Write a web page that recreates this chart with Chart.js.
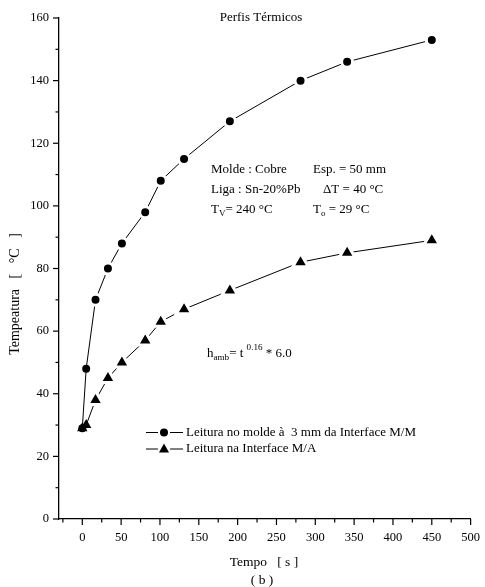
<!DOCTYPE html>
<html>
<head>
<meta charset="utf-8">
<script src="https://cdn.jsdelivr.net/npm/chart.js@4/dist/chart.umd.min.js"></script>
<style>
  body { margin: 0; background: #fff; }
  canvas { display: block; }
</style>
</head>
<body>
<canvas id="grafico" width="485" height="587"></canvas>
<script>
// dados (b)
const tempos = [0, 5, 17, 33, 51, 81, 101, 131, 190, 281, 341, 450];
const tempMolde = [29, 48, 70, 80, 88, 98, 108, 115, 127, 140, 146, 153];
const tempInterface = [29, 30, 38, 45, 50, 57, 63, 67, 73, 82, 85, 89];
const legendas = ['Leitura no molde à  3 mm da Interface M/M', 'Leitura na Interface M/A'];
const ticksX = [-25, 0, 25, 50, 75, 100, 125, 150, 175, 200, 225, 250, 275, 300, 325, 350, 375, 400, 425, 450, 475, 500];
const ticksY = [0, 10, 20, 30, 40, 50, 60, 70, 80, 90, 100, 110, 120, 130, 140, 150, 160];

const fonte = '"Liberation Serif", "Times New Roman", serif';

function pontos(ys) {
  return tempos.map((t, i) => ({ x: t, y: ys[i] }));
}

// escreve texto com subscrito / sobrescrito
function textoRico(ctx, x, y, partes, tam) {
  partes.forEach(p => {
    const [txt, tipo] = p;
    let dy = 0, t = tam;
    if (tipo === 'sub') { t = tam * 0.7; dy = 3; }
    if (tipo === 'sup') { t = tam * 0.7; dy = -7; }
    ctx.font = t + 'px ' + fonte;
    ctx.fillText(txt, x, y + dy);
    x += ctx.measureText(txt).width;
  });
}

function marcador(ctx, tipo, x, y) {
  ctx.fillStyle = '#000';
  ctx.beginPath();
  if (tipo === 'circle') {
    ctx.arc(x, y, 4, 0, Math.PI * 2);
  } else {
    ctx.moveTo(x, y - 5.5);
    ctx.lineTo(x + 5, y + 3.5);
    ctx.lineTo(x - 5, y + 3.5);
    ctx.closePath();
  }
  ctx.fill();
}

const textos = {
  id: 'textos',
  afterDraw(chart) {
    const ctx = chart.ctx;
    const area = chart.chartArea;
    const sx = chart.scales.x, sy = chart.scales.y;
    ctx.save();
    ctx.strokeStyle = '#000';
    ctx.lineWidth = 1.2;

    // marcas dos eixos (maiores com rotulo, menores sem)
    sx.ticks.forEach(t => {
      const px = sx.getPixelForValue(t.value);
      const len = (t.value >= 0 && t.value % 50 === 0) ? 6 : 3.5;
      ctx.beginPath();
      ctx.moveTo(px, area.bottom);
      ctx.lineTo(px, area.bottom + len);
      ctx.stroke();
    });
    sy.ticks.forEach(t => {
      const py = sy.getPixelForValue(t.value);
      const len = t.value % 20 === 0 ? 6 : 3.5;
      ctx.beginPath();
      ctx.moveTo(area.left - len, py);
      ctx.lineTo(area.left, py);
      ctx.stroke();
    });

    ctx.fillStyle = '#000';
    ctx.textBaseline = 'alphabetic';

    // titulo
    ctx.textAlign = 'center';
    ctx.font = '13px ' + fonte;
    ctx.fillText('Perfis Térmicos', 261, 21);

    // titulos dos eixos
    ctx.textBaseline = 'middle';
    ctx.font = '13.5px ' + fonte;
    ctx.fillText('Tempo   [ s ]', 264, 562);
    ctx.fillText('( b )', 262, 580);
    ctx.save();
    ctx.translate(15, 294);
    ctx.rotate(-Math.PI / 2);
    ctx.font = '14px ' + fonte;
    ctx.fillText('Tempeatura   [   °C   ]', 0, 0);
    ctx.restore();

    // condicoes do ensaio
    ctx.textAlign = 'left';
    ctx.textBaseline = 'alphabetic';
    textoRico(ctx, 211, 173, [['Molde : Cobre']], 13);
    textoRico(ctx, 313, 173, [['Esp. = 50 mm']], 13);
    textoRico(ctx, 211, 193, [['Liga : Sn-20%Pb']], 13);
    textoRico(ctx, 323, 193, [['ΔT = 40 °C']], 13);
    textoRico(ctx, 211, 213, [['T'], ['V', 'sub'], ['= 240 °C']], 13);
    textoRico(ctx, 313, 213, [['T'], ['o', 'sub'], [' = 29 °C']], 13);
    textoRico(ctx, 207, 357, [['h'], ['amb', 'sub'], ['= t '], ['0.16', 'sup'], [' * 6.0']], 13);

    // legenda
    const linhasY = [432.5, 449];
    const tipos = ['circle', 'triangle'];
    linhasY.forEach((ly, i) => {
      ctx.lineWidth = 1;
      ctx.beginPath();
      ctx.moveTo(146, ly); ctx.lineTo(158, ly);
      ctx.moveTo(170, ly); ctx.lineTo(183, ly);
      ctx.stroke();
      marcador(ctx, tipos[i], 164, ly);
      ctx.font = '13px ' + fonte;
      ctx.textBaseline = 'middle';
      ctx.fillText(legendas[i], 186, ly);
    });
    ctx.restore();
  }
};

// os primeiros pontos se sobrepoem: sem contorno branco neles
const borda = c => c.dataIndex < 2 ? 0 : 3;

new Chart(document.getElementById('grafico'), {
  type: 'scatter',
  data: {
    datasets: [{
      label: legendas[0],
      data: pontos(tempMolde),
      order: 2,
      showLine: true,
      borderColor: '#000',
      borderWidth: 1,
      pointStyle: 'circle',
      pointRadius: c => c.dataIndex < 2 ? 4 : 5.5,
      pointBackgroundColor: '#000',
      pointBorderColor: '#fff',
      pointBorderWidth: borda
    }, {
      label: legendas[1],
      data: pontos(tempInterface),
      order: 1,
      showLine: true,
      borderColor: '#000',
      borderWidth: 1,
      pointStyle: 'triangle',
      pointRadius: c => c.dataIndex < 2 ? 6 : 9,
      pointBackgroundColor: '#000',
      pointBorderColor: '#fff',
      pointBorderWidth: borda
    }]
  },
  options: {
    responsive: false,
    devicePixelRatio: 1,
    animation: false,
    events: [],
    layout: { padding: { top: 18, right: 11.5, left: 0, bottom: 0 } },
    plugins: {
      legend: { display: false },
      tooltip: { enabled: false }
    },
    scales: {
      x: {
        type: 'linear',
        position: 'bottom',
        min: -30,
        max: 500,
        afterBuildTicks: s => { s.ticks = ticksX.map(v => ({ value: v })); },
        afterFit: s => { s.height = 68; },
        grid: { display: false, drawTicks: true, tickLength: 6 },
        border: { display: true, color: '#000', width: 1.3 },
        ticks: {
          color: '#000',
          font: { family: fonte, size: 12.5 },
          padding: 5,
          autoSkip: false,
          maxRotation: 0,
          callback: v => (v >= 0 && v % 50 === 0) ? String(v) : ''
        }
      },
      y: {
        type: 'linear',
        min: 0,
        max: 160,
        afterBuildTicks: s => { s.ticks = ticksY.map(v => ({ value: v })); },
        afterFit: s => { s.width = 59; },
        grid: { display: false, drawTicks: true, tickLength: 6 },
        border: { display: true, color: '#000', width: 1.3 },
        ticks: {
          color: '#000',
          font: { family: fonte, size: 12.5 },
          padding: 4,
          autoSkip: false,
          callback: v => v % 20 === 0 ? String(v) : ''
        }
      }
    }
  },
  plugins: [textos]
});
</script>
</body>
</html>
